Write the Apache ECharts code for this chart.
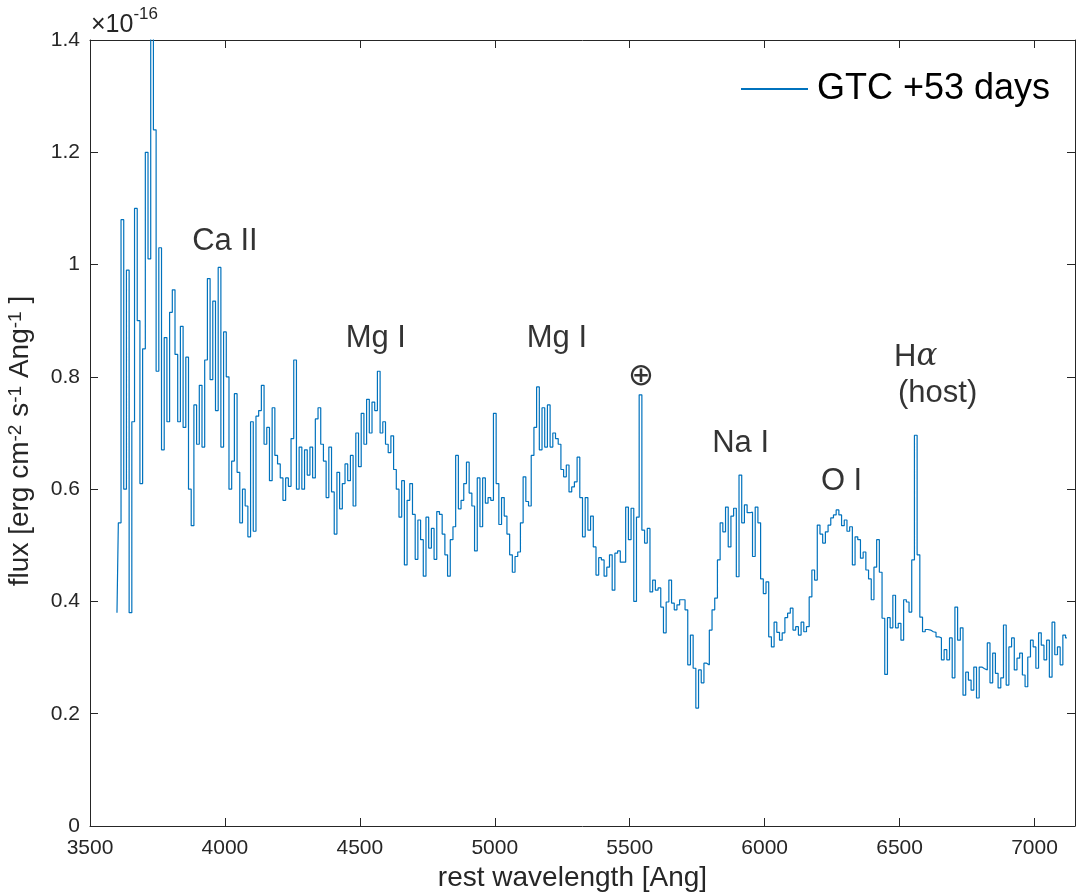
<!DOCTYPE html>
<html lang="en">
<head>
<meta charset="utf-8">
<title>GTC +53 days spectrum</title>
<script src="https://cdn.jsdelivr.net/npm/echarts@6/dist/echarts.min.js"></script>
<style>html, body { margin: 0; padding: 0; background: #fff; }</style>
</head>
<body>
<div id="main" style="width: 1081px; height: 895px;"></div>
<script>
// spectrum sampled every 10 Ang starting at 3600 Ang (flux in units of 1e-16)
const waveStart = 3600;
const waveStep = 10;
const flux = [
  0.38, 0.54, 1.08, 0.60, 0.99, 0.38, 0.72, 1.10, 0.90, 0.61,
  0.85, 1.20, 1.01, 1.45, 1.24, 0.81, 1.03, 0.67, 0.87, 0.72,
  0.915, 0.955, 0.84, 0.72, 0.89, 0.71, 0.835, 0.60, 0.535, 0.75,
  0.68, 0.785, 0.675, 0.83, 0.975, 0.795, 0.935, 0.74, 0.995, 0.675,
  0.88, 0.80, 0.60, 0.65, 0.77, 0.63, 0.54, 0.60, 0.57, 0.515,
  0.72, 0.525, 0.73, 0.74, 0.785, 0.68, 0.71, 0.615, 0.745, 0.66,
  0.645, 0.62, 0.58, 0.62, 0.605, 0.69, 0.83, 0.60, 0.675, 0.60,
  0.67, 0.625, 0.675, 0.62, 0.725, 0.745, 0.68, 0.65, 0.585, 0.675,
  0.595, 0.52, 0.63, 0.565, 0.61, 0.645, 0.615, 0.66, 0.57, 0.70,
  0.64, 0.735, 0.68, 0.76, 0.70, 0.755, 0.74, 0.81, 0.70, 0.72,
  0.68, 0.665, 0.695, 0.635, 0.60, 0.55, 0.615, 0.465, 0.58, 0.61,
  0.555, 0.475, 0.545, 0.51, 0.445, 0.55, 0.495, 0.53, 0.475, 0.56,
  0.555, 0.52, 0.483, 0.445, 0.51, 0.533, 0.66, 0.565, 0.58, 0.61,
  0.648, 0.593, 0.57, 0.49, 0.62, 0.533, 0.62, 0.575, 0.585, 0.58,
  0.735, 0.61, 0.537, 0.585, 0.552, 0.52, 0.483, 0.452, 0.48, 0.488,
  0.54, 0.622, 0.578, 0.57, 0.66, 0.71, 0.782, 0.67, 0.745, 0.675,
  0.75, 0.675, 0.70, 0.69, 0.68, 0.635, 0.622, 0.643, 0.595, 0.604,
  0.613, 0.657, 0.585, 0.515, 0.585, 0.527, 0.552, 0.497, 0.447, 0.478,
  0.474, 0.445, 0.461, 0.483, 0.42, 0.486, 0.49, 0.47, 0.47, 0.568,
  0.51, 0.566, 0.40, 0.55, 0.768, 0.527, 0.504, 0.53, 0.417, 0.438,
  0.42, 0.424, 0.39, 0.344, 0.399, 0.438, 0.397, 0.385, 0.394, 0.403,
  0.403, 0.385, 0.287, 0.34, 0.281, 0.21, 0.278, 0.255, 0.29, 0.287,
  0.349, 0.385, 0.406, 0.474, 0.54, 0.524, 0.568, 0.497, 0.552, 0.566,
  0.444, 0.625, 0.54, 0.572, 0.558, 0.559, 0.48, 0.568, 0.54, 0.44,
  0.414, 0.435, 0.337, 0.319, 0.363, 0.345, 0.331, 0.344, 0.371, 0.379,
  0.388, 0.349, 0.355, 0.34, 0.363, 0.346, 0.355, 0.408, 0.456, 0.438,
  0.536, 0.52, 0.504, 0.524, 0.536, 0.549, 0.554, 0.563, 0.554, 0.535,
  0.545, 0.525, 0.533, 0.465, 0.515, 0.51, 0.477, 0.488, 0.456, 0.44,
  0.403, 0.461, 0.51, 0.452, 0.37, 0.27, 0.371, 0.353, 0.411, 0.353,
  0.361, 0.331, 0.403, 0.399, 0.381, 0.474, 0.696, 0.483, 0.372, 0.346,
  0.35, 0.349, 0.346, 0.345, 0.337, 0.335, 0.296, 0.314, 0.296, 0.335,
  0.264, 0.39, 0.331, 0.353, 0.233, 0.274, 0.26, 0.242, 0.283, 0.228,
  0.283, 0.28, 0.278, 0.326, 0.255, 0.308, 0.272, 0.246, 0.264, 0.358,
  0.251, 0.319, 0.335, 0.278, 0.299, 0.308, 0.269, 0.248, 0.301, 0.331,
  0.319, 0.281, 0.344, 0.322, 0.296, 0.331, 0.265, 0.363, 0.305, 0.319,
  0.287, 0.34, 0.335
];

// line identifications written on the plot
const lineNames = ['Ca II', 'Mg I', 'Mg I', '\u2295', 'Na I', 'O I', '{n|H}{g|\u03b1}', '(host)'];
const lineWave = [4000, 4559, 5230, 5541, 5911, 6285, 6560, 6641];
const lineFlux = [1.042, 0.869, 0.869, 0.80, 0.682, 0.613, 0.835, 0.771];

const xMin = 3500, xMax = 7150, xStep = 500;
const yMin = 0, yMax = 1.4, yStep = 0.2;

const ink = '#262626';
const blue = '#0072BD';
const font = 'Liberation Sans, Arial, Helvetica, sans-serif';

const spectrum = flux.map((f, i) => [waveStart + i * waveStep, f]);
const labelPts = lineNames.map((t, i) => ({ value: [lineWave[i], lineFlux[i]], name: t }));

let myChart = echarts.init(document.getElementById('main'));

const tickStyle = { inside: true, length: 8, lineStyle: { color: ink, width: 1 } };
const lineStyleAx = { show: true, onZero: false, lineStyle: { color: ink, width: 1 } };

let options = {
    animation: false,
    backgroundColor: '#fff',
    textStyle: { fontFamily: font },
    grid: { left: 90, right: 6, top: 40, bottom: 69, containLabel: false, outerBoundsMode: 'none' },
    graphic: [{
        type: 'text', left: 91, top: 6,
        style: {
            text: '{a|\u00d710}{b|-16}',
            rich: {
                a: { fontSize: 25, fontFamily: font, fill: ink, lineHeight: 32, verticalAlign: 'bottom' },
                b: { fontSize: 17, fontFamily: font, fill: ink, lineHeight: 32, verticalAlign: 'top' }
            }
        }
    }],
    legend: {
        data: ['GTC +53 days'],
        left: 741, top: 71, padding: 0,
        icon: 'rect', itemWidth: 67, itemHeight: 2,
        textStyle: { fontSize: 36, color: '#000', fontFamily: font, padding: [0, 0, 0, 4] }
    },
    xAxis: [{
        type: 'value', min: xMin, max: xMax, interval: xStep,
        name: 'rest wavelength [Ang]', nameLocation: 'middle', nameGap: 38,
        nameTextStyle: { fontSize: 28, color: ink, fontFamily: font, padding: [0, 20, 0, 0] },
        axisLine: lineStyleAx, axisTick: tickStyle, splitLine: { show: false },
        axisLabel: { fontSize: 21, color: ink, margin: 12, showMaxLabel: false,
            formatter: v => (v % xStep === 0 ? String(v) : '') }
    }, {
        type: 'value', position: 'top', min: xMin, max: xMax, interval: xStep,
        axisLine: lineStyleAx, axisTick: tickStyle, splitLine: { show: false },
        axisLabel: { show: false }
    }],
    yAxis: [{
        type: 'value', min: yMin, max: yMax, interval: yStep,
        name: 'flux [erg cm{s|-2} s{s|-1} Ang{s|-1} ]', nameLocation: 'middle', nameGap: 56, nameRotate: 90,
        nameTextStyle: {
            fontSize: 28, color: ink, fontFamily: font, padding: [0, 16, 0, 0],
            rich: { s: { fontSize: 19, color: ink, fontFamily: font, verticalAlign: 'top', lineHeight: 14 } }
        },
        axisLine: lineStyleAx, axisTick: tickStyle, splitLine: { show: false },
        axisLabel: { fontSize: 21, color: ink, margin: 10 }
    }, {
        type: 'value', position: 'right', min: yMin, max: yMax, interval: yStep,
        axisLine: lineStyleAx, axisTick: tickStyle, splitLine: { show: false },
        axisLabel: { show: false }
    }],
    series: [{
        name: 'GTC +53 days',
        type: 'line',
        step: 'middle',
        data: spectrum,
        showSymbol: false,
        symbol: 'none',
        clip: true,
        color: blue,
        lineStyle: { color: blue, width: 1.2 },
        silent: true
    }, {
        name: 'ids',
        type: 'scatter',
        data: labelPts,
        symbolSize: 1,
        itemStyle: { color: 'rgba(0,0,0,0)' },
        silent: true,
        label: {
            show: true, position: 'inside',
            formatter: p => p.name,
            fontSize: 31, color: '#000', textBorderWidth: 0, fontFamily: font,
            rich: {
                n: { fontSize: 31, color: '#000', fontFamily: font },
                g: { fontSize: 31, color: '#000', fontFamily: 'DejaVu Serif, serif', fontStyle: 'italic' }
            }
        }
    }]
};

myChart.setOption(options);
</script>
</body>
</html>
